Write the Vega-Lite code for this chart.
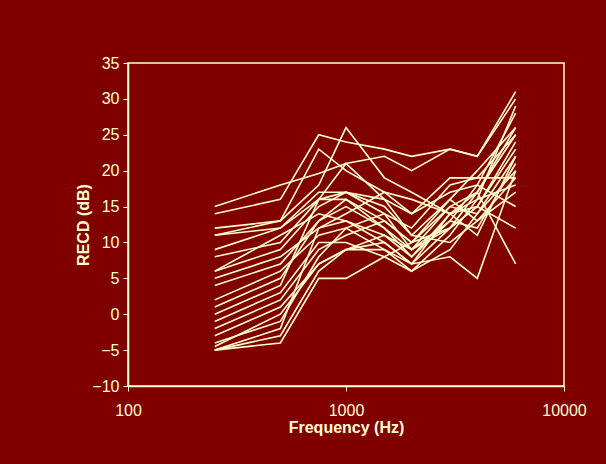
{
  "$schema": "https://vega.github.io/schema/vega-lite/v6.json",
  "width": 436,
  "height": 323,
  "autosize": {"type": "none"},
  "padding": {"left": 128, "top": 63, "right": 42, "bottom": 78},
  "background": "#800000",
  "config": {
    "view": {"stroke": "#FFFFCC", "strokeWidth": 1.5},
    "axis": {
      "domainColor": "#FFFFCC", "domainWidth": 1.5,
      "tickColor": "#FFFFCC", "tickWidth": 1, "tickSize": 5,
      "labelColor": "#FFFFCC", "labelFont": "Liberation Sans", "labelFontSize": 16,
      "titleColor": "#FFFFCC", "titleFont": "Liberation Sans", "titleFontSize": 16, "titleFontWeight": "bold",
      "grid": false
    }
  },
  "datasets": {
    "recd": [
      {"id":1,"freq":250,"recd":15},{"id":1,"freq":500,"recd":18},{"id":1,"freq":750,"recd":19.6},{"id":1,"freq":1000,"recd":21},{"id":1,"freq":1500,"recd":22},{"id":1,"freq":2000,"recd":20},{"id":1,"freq":3000,"recd":23},{"id":1,"freq":4000,"recd":22},{"id":1,"freq":6000,"recd":31},
      {"id":2,"freq":250,"recd":14},{"id":2,"freq":500,"recd":16},{"id":2,"freq":750,"recd":25},{"id":2,"freq":1000,"recd":24},{"id":2,"freq":1500,"recd":23},{"id":2,"freq":2000,"recd":22},{"id":2,"freq":3000,"recd":23},{"id":2,"freq":4000,"recd":22},{"id":2,"freq":6000,"recd":30},
      {"id":3,"freq":250,"recd":12},{"id":3,"freq":500,"recd":13},{"id":3,"freq":750,"recd":18},{"id":3,"freq":1000,"recd":26},{"id":3,"freq":1500,"recd":19},{"id":3,"freq":2000,"recd":17},{"id":3,"freq":3000,"recd":14},{"id":3,"freq":4000,"recd":16},{"id":3,"freq":6000,"recd":29},
      {"id":4,"freq":250,"recd":11},{"id":4,"freq":500,"recd":13},{"id":4,"freq":750,"recd":23},{"id":4,"freq":1000,"recd":20},{"id":4,"freq":1500,"recd":17},{"id":4,"freq":2000,"recd":14},{"id":4,"freq":3000,"recd":17},{"id":4,"freq":4000,"recd":18},{"id":4,"freq":6000,"recd":28},
      {"id":5,"freq":250,"recd":9},{"id":5,"freq":500,"recd":12},{"id":5,"freq":750,"recd":16},{"id":5,"freq":1000,"recd":21},{"id":5,"freq":1500,"recd":16},{"id":5,"freq":2000,"recd":11},{"id":5,"freq":3000,"recd":16},{"id":5,"freq":4000,"recd":20},{"id":5,"freq":6000,"recd":26},
      {"id":6,"freq":250,"recd":8},{"id":6,"freq":500,"recd":10},{"id":6,"freq":750,"recd":16},{"id":6,"freq":1000,"recd":16},{"id":6,"freq":1500,"recd":13},{"id":6,"freq":2000,"recd":10},{"id":6,"freq":3000,"recd":15},{"id":6,"freq":4000,"recd":17},{"id":6,"freq":6000,"recd":25},
      {"id":7,"freq":250,"recd":6},{"id":7,"freq":500,"recd":9},{"id":7,"freq":750,"recd":15},{"id":7,"freq":1000,"recd":17},{"id":7,"freq":1500,"recd":14},{"id":7,"freq":2000,"recd":12},{"id":7,"freq":3000,"recd":18},{"id":7,"freq":4000,"recd":19},{"id":7,"freq":6000,"recd":25},
      {"id":8,"freq":250,"recd":6},{"id":8,"freq":500,"recd":11},{"id":8,"freq":750,"recd":14},{"id":8,"freq":1000,"recd":13},{"id":8,"freq":1500,"recd":11},{"id":8,"freq":2000,"recd":9},{"id":8,"freq":3000,"recd":12},{"id":8,"freq":4000,"recd":15},{"id":8,"freq":6000,"recd":23},
      {"id":9,"freq":250,"recd":5},{"id":9,"freq":500,"recd":8},{"id":9,"freq":750,"recd":12},{"id":9,"freq":1000,"recd":14},{"id":9,"freq":1500,"recd":17},{"id":9,"freq":2000,"recd":16},{"id":9,"freq":3000,"recd":14},{"id":9,"freq":4000,"recd":11},{"id":9,"freq":6000,"recd":22},
      {"id":10,"freq":250,"recd":4},{"id":10,"freq":500,"recd":7},{"id":10,"freq":750,"recd":13},{"id":10,"freq":1000,"recd":15},{"id":10,"freq":1500,"recd":12},{"id":10,"freq":2000,"recd":8},{"id":10,"freq":3000,"recd":13},{"id":10,"freq":4000,"recd":12},{"id":10,"freq":6000,"recd":21},
      {"id":11,"freq":250,"recd":2},{"id":11,"freq":500,"recd":6},{"id":11,"freq":750,"recd":11},{"id":11,"freq":1000,"recd":12},{"id":11,"freq":1500,"recd":9},{"id":11,"freq":2000,"recd":6},{"id":11,"freq":3000,"recd":9},{"id":11,"freq":4000,"recd":14},{"id":11,"freq":6000,"recd":20},
      {"id":12,"freq":250,"recd":0},{"id":12,"freq":500,"recd":4},{"id":12,"freq":750,"recd":16},{"id":12,"freq":1000,"recd":17},{"id":12,"freq":1500,"recd":15},{"id":12,"freq":2000,"recd":11},{"id":12,"freq":3000,"recd":10},{"id":12,"freq":4000,"recd":13},{"id":12,"freq":6000,"recd":19},
      {"id":13,"freq":250,"recd":-1},{"id":13,"freq":500,"recd":3},{"id":13,"freq":750,"recd":10},{"id":13,"freq":1000,"recd":10},{"id":13,"freq":1500,"recd":8},{"id":13,"freq":2000,"recd":6},{"id":13,"freq":3000,"recd":11},{"id":13,"freq":4000,"recd":16},{"id":13,"freq":6000,"recd":18},
      {"id":14,"freq":250,"recd":-2},{"id":14,"freq":500,"recd":2},{"id":14,"freq":750,"recd":9},{"id":14,"freq":1000,"recd":11},{"id":14,"freq":1500,"recd":13},{"id":14,"freq":2000,"recd":10},{"id":14,"freq":3000,"recd":16},{"id":14,"freq":4000,"recd":13},{"id":14,"freq":6000,"recd":17},
      {"id":15,"freq":250,"recd":-3},{"id":15,"freq":500,"recd":1},{"id":15,"freq":750,"recd":7},{"id":15,"freq":1000,"recd":9},{"id":15,"freq":1500,"recd":9},{"id":15,"freq":2000,"recd":7},{"id":15,"freq":3000,"recd":8},{"id":15,"freq":4000,"recd":5},{"id":15,"freq":6000,"recd":20},
      {"id":16,"freq":250,"recd":-4},{"id":16,"freq":500,"recd":-1},{"id":16,"freq":750,"recd":8},{"id":16,"freq":1000,"recd":12},{"id":16,"freq":1500,"recd":14},{"id":16,"freq":2000,"recd":9},{"id":16,"freq":3000,"recd":13},{"id":16,"freq":4000,"recd":18},{"id":16,"freq":6000,"recd":15},
      {"id":17,"freq":250,"recd":-5},{"id":17,"freq":500,"recd":-4},{"id":17,"freq":750,"recd":5},{"id":17,"freq":1000,"recd":5},{"id":17,"freq":1500,"recd":8},{"id":17,"freq":2000,"recd":10},{"id":17,"freq":3000,"recd":12},{"id":17,"freq":4000,"recd":15},{"id":17,"freq":6000,"recd":12},
      {"id":18,"freq":250,"recd":-5},{"id":18,"freq":500,"recd":-2},{"id":18,"freq":750,"recd":12},{"id":18,"freq":1000,"recd":13},{"id":18,"freq":1500,"recd":10},{"id":18,"freq":2000,"recd":7},{"id":18,"freq":3000,"recd":14},{"id":18,"freq":4000,"recd":17},{"id":18,"freq":6000,"recd":7},
      {"id":19,"freq":250,"recd":-5},{"id":19,"freq":500,"recd":-3},{"id":19,"freq":750,"recd":6},{"id":19,"freq":1000,"recd":9},{"id":19,"freq":1500,"recd":11},{"id":19,"freq":2000,"recd":8},{"id":19,"freq":3000,"recd":14},{"id":19,"freq":4000,"recd":15},{"id":19,"freq":6000,"recd":24},
      {"id":20,"freq":250,"recd":-4.5},{"id":20,"freq":500,"recd":0},{"id":20,"freq":750,"recd":7},{"id":20,"freq":1000,"recd":9},{"id":20,"freq":1500,"recd":10},{"id":20,"freq":2000,"recd":7},{"id":20,"freq":3000,"recd":12},{"id":20,"freq":4000,"recd":17},{"id":20,"freq":6000,"recd":26},
      {"id":21,"freq":250,"recd":1},{"id":21,"freq":500,"recd":5},{"id":21,"freq":750,"recd":13},{"id":21,"freq":1000,"recd":16},{"id":21,"freq":1500,"recd":12},{"id":21,"freq":2000,"recd":9},{"id":21,"freq":3000,"recd":15},{"id":21,"freq":4000,"recd":14},{"id":21,"freq":6000,"recd":22},
      {"id":22,"freq":250,"recd":11},{"id":22,"freq":500,"recd":12},{"id":22,"freq":750,"recd":17},{"id":22,"freq":1000,"recd":17},{"id":22,"freq":1500,"recd":16},{"id":22,"freq":2000,"recd":14},{"id":22,"freq":3000,"recd":19},{"id":22,"freq":4000,"recd":19},{"id":22,"freq":6000,"recd":19}
    ]
  },
  "data": {"name": "recd"},
  "mark": {"type": "line", "color": "#FFFFCC", "strokeWidth": 1.6},
  "encoding": {
    "x": {
      "field": "freq", "type": "quantitative",
      "scale": {"type": "log", "domain": [100, 10000], "nice": false},
      "axis": {"values": [100, 1000, 10000], "format": "d", "title": "Frequency (Hz)", "labelPadding": 11, "titlePadding": 1, "labelFlush": false}
    },
    "y": {
      "field": "recd", "type": "quantitative",
      "scale": {"domain": [-10, 35], "nice": false, "zero": false},
      "axis": {"values": [-10, -5, 0, 5, 10, 15, 20, 25, 30, 35], "title": "RECD (dB)", "labelPadding": 4, "titlePadding": 0}
    },
    "detail": {"field": "id", "type": "nominal"},
    "order": {"field": "freq", "type": "quantitative"}
  }
}
